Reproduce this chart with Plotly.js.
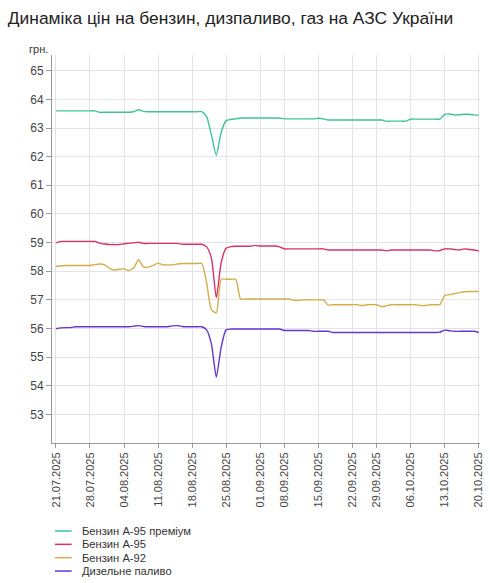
<!DOCTYPE html>
<html>
<head>
<meta charset="utf-8">
<script src="https://cdn.plot.ly/plotly-3.0.1.min.js"></script>
<style>html,body{margin:0;padding:0;background:#fff;}#chart{width:490px;height:583px;}</style>
</head>
<body>
<div id="chart"></div>
<script>
var dates = [
"21.07.2025","22.07.2025","23.07.2025","24.07.2025","25.07.2025","26.07.2025","27.07.2025","28.07.2025","29.07.2025","30.07.2025","31.07.2025",
"01.08.2025","02.08.2025","03.08.2025","04.08.2025","05.08.2025","06.08.2025","07.08.2025","08.08.2025","09.08.2025","10.08.2025",
"11.08.2025","12.08.2025","13.08.2025","14.08.2025","15.08.2025","16.08.2025","17.08.2025","18.08.2025","19.08.2025","20.08.2025",
"21.08.2025","22.08.2025","23.08.2025","24.08.2025","25.08.2025","26.08.2025","27.08.2025","28.08.2025","29.08.2025","30.08.2025","31.08.2025",
"01.09.2025","02.09.2025","03.09.2025","04.09.2025","05.09.2025",
"08.09.2025","09.09.2025","10.09.2025","11.09.2025","12.09.2025","13.09.2025","14.09.2025","15.09.2025","16.09.2025","17.09.2025",
"18.09.2025","19.09.2025","20.09.2025","21.09.2025","22.09.2025","23.09.2025","24.09.2025","25.09.2025","26.09.2025",
"29.09.2025","30.09.2025",
"01.10.2025","02.10.2025","03.10.2025","04.10.2025","05.10.2025","06.10.2025","07.10.2025","08.10.2025","09.10.2025","10.10.2025",
"11.10.2025","12.10.2025","13.10.2025","14.10.2025","15.10.2025","16.10.2025","17.10.2025","18.10.2025","19.10.2025","20.10.2025"
];

var tickDates = ["21.07.2025","28.07.2025","04.08.2025","11.08.2025","18.08.2025","25.08.2025","01.09.2025",
"08.09.2025","15.09.2025","22.09.2025","29.09.2025","06.10.2025","13.10.2025","20.10.2025"];

var seriesNames = ["Бензин А-95 преміум","Бензин А-95","Бензин А-92","Дизельне паливо"];
var seriesColors = ["#42c29c","#d8306f","#d4ad4a","#6536d2"];

var a95premium = [
63.60,63.60,63.60,63.60,63.60,63.60,63.60,63.60,63.60,
63.55,63.55,63.55,63.55,63.55,63.55,63.55,
63.57,63.64,63.58,
63.57,63.57,63.57,63.57,63.57,63.57,63.57,63.57,63.57,63.57,63.57,63.57,
63.40,62.75,62.05,62.85,63.25,63.30,63.32,
63.35,63.35,63.35,63.35,63.35,63.35,63.35,63.35,63.35,
63.32,63.32,63.32,63.32,63.32,63.32,63.32,63.34,63.32,
63.28,63.28,63.28,63.28,63.28,63.28,63.28,63.28,63.28,63.28,63.28,63.28,
63.24,63.24,63.24,63.24,63.24,
63.31,63.31,63.31,63.31,63.31,63.31,63.31,
63.48,63.49,63.46,63.46,63.48,63.48,63.46,63.44
];

var a95 = [
58.99,59.04,59.04,59.04,59.04,59.04,59.04,59.04,59.04,
58.98,58.95,58.93,58.93,58.93,58.96,58.97,58.99,59.01,
58.97,58.97,58.97,58.97,58.97,58.97,58.97,58.97,
58.94,58.94,58.94,58.94,58.94,
58.85,58.45,57.08,58.30,58.80,58.86,
58.87,58.87,58.87,58.87,58.90,
58.88,58.88,58.88,58.88,58.85,
58.78,58.78,58.78,58.78,58.78,58.78,58.78,58.78,58.78,
58.74,58.74,58.74,58.74,58.74,58.74,58.74,58.74,58.74,58.74,58.74,58.74,
58.71,
58.74,58.74,58.74,58.74,58.74,58.74,58.74,58.74,58.74,
58.71,58.72,58.78,58.78,58.76,58.74,58.78,58.76,58.74,58.71
];

var a92 = [
58.17,58.18,58.20,58.20,58.20,58.20,58.20,58.20,
58.23,58.25,58.22,58.10,58.04,58.07,58.08,58.02,58.12,58.40,58.15,58.14,58.20,58.28,
58.22,58.22,58.22,58.25,
58.27,58.27,58.27,58.27,58.27,
57.60,56.65,56.55,
57.72,57.72,57.72,57.72,
57.03,57.03,57.03,57.03,57.03,57.03,57.03,57.03,57.03,57.03,57.03,
56.98,56.98,
57.00,57.00,57.00,57.00,57.00,
56.82,
56.83,56.83,56.83,56.83,56.83,56.83,
56.80,
56.83,56.83,56.83,
56.76,56.79,
56.83,56.83,56.83,56.83,56.83,56.83,
56.80,56.80,
56.83,56.83,56.83,
57.15,57.18,57.22,57.25,57.28,57.29,57.29,57.29
];

var diesel = [
55.99,56.02,56.03,56.03,
56.06,56.06,56.06,56.06,56.06,56.06,56.06,56.06,56.06,56.06,56.06,56.06,
56.08,56.10,56.07,
56.06,56.06,56.06,56.06,56.06,
56.09,56.10,56.07,
56.06,56.06,56.06,56.06,
55.95,55.45,54.30,55.35,55.95,
55.98,55.98,55.98,55.98,55.98,55.98,55.98,55.98,55.98,55.98,55.98,
55.93,55.93,55.93,55.93,55.93,55.93,
55.90,55.90,55.90,55.90,
55.86,55.86,55.86,55.86,55.86,55.86,55.86,55.86,55.86,55.86,55.86,
55.86,55.86,55.86,55.86,55.86,55.86,55.86,55.86,55.86,55.86,55.86,
55.87,55.94,55.92,
55.90,55.90,55.90,55.90,55.90,
55.86
];

var yTicks = [53,54,55,56,57,58,59,60,61,62,63,64,65];

var allSeries = [a95premium, a95, a92, diesel];
var FONT = "Liberation Sans, Arial, sans-serif";

var traces = allSeries.map(function (vals, i) {
  return {
    type: "scatter",
    mode: "lines",
    x: dates,
    y: vals,
    name: seriesNames[i],
    line: {color: seriesColors[i], width: 1.4, shape: "spline", smoothing: 0.6},
    showlegend: false,
    hoverinfo: "x+y+name"
  };
});

// custom compact legend
var shapes = [];
var annotations = [];
seriesNames.forEach(function (nm, i) {
  var yy = -0.2268 - i * 0.0344;
  shapes.push({type: "line", xref: "paper", yref: "paper", x0: 0.007, x1: 0.046, y0: yy, y1: yy,
    line: {color: seriesColors[i], width: 1.5}});
  annotations.push({xref: "paper", yref: "paper", x: 0.0654, y: yy, xanchor: "left", yanchor: "middle",
    text: nm, showarrow: false, font: {family: FONT, size: 11.2, color: "#333"}});
});
annotations.push({xref: "paper", yref: "paper", x: -0.058, y: 1.0155, xanchor: "left", yanchor: "middle",
  text: "грн.", showarrow: false, font: {family: FONT, size: 11, color: "#333"}});

var layout = {
  width: 490,
  height: 583,
  margin: {l: 52, r: 10, t: 55, b: 140},
  paper_bgcolor: "#fff",
  plot_bgcolor: "#fff",
  font: {family: FONT, size: 12, color: "#444"},
  title: {
    text: "Динаміка цін на бензин, дизпаливо, газ на АЗС України",
    x: 0.016, xanchor: "left", xref: "container",
    y: 0.969, yanchor: "middle", yref: "container",
    font: {family: FONT, size: 17.4, color: "#222"}
  },
  xaxis: {
    type: "category",
    categoryorder: "array",
    categoryarray: dates,
    range: [-0.82, 87.27],
    tickmode: "array",
    tickvals: tickDates,
    ticktext: tickDates,
    tickangle: -90,
    ticks: "outside",
    ticklen: 4,
    tickcolor: "#999",
    tickfont: {family: FONT, size: 11, color: "#444"},
    showgrid: true,
    gridcolor: "#e3e3e3",
    gridwidth: 1,
    showline: true,
    linecolor: "#999",
    linewidth: 1,
    zeroline: false,
    fixedrange: true
  },
  yaxis: {
    range: [52, 65.55],
    tickmode: "array",
    tickvals: yTicks,
    ticks: "outside",
    ticklen: 5,
    tickcolor: "#999",
    tickfont: {family: FONT, size: 12, color: "#444"},
    showgrid: true,
    gridcolor: "#e3e3e3",
    gridwidth: 1,
    showline: true,
    linecolor: "#999",
    linewidth: 1,
    zeroline: false,
    fixedrange: true
  },
  shapes: shapes,
  annotations: annotations,
  showlegend: false
};

Plotly.newPlot("chart", traces, layout, {displayModeBar: false, staticPlot: true});
</script>
</body>
</html>
